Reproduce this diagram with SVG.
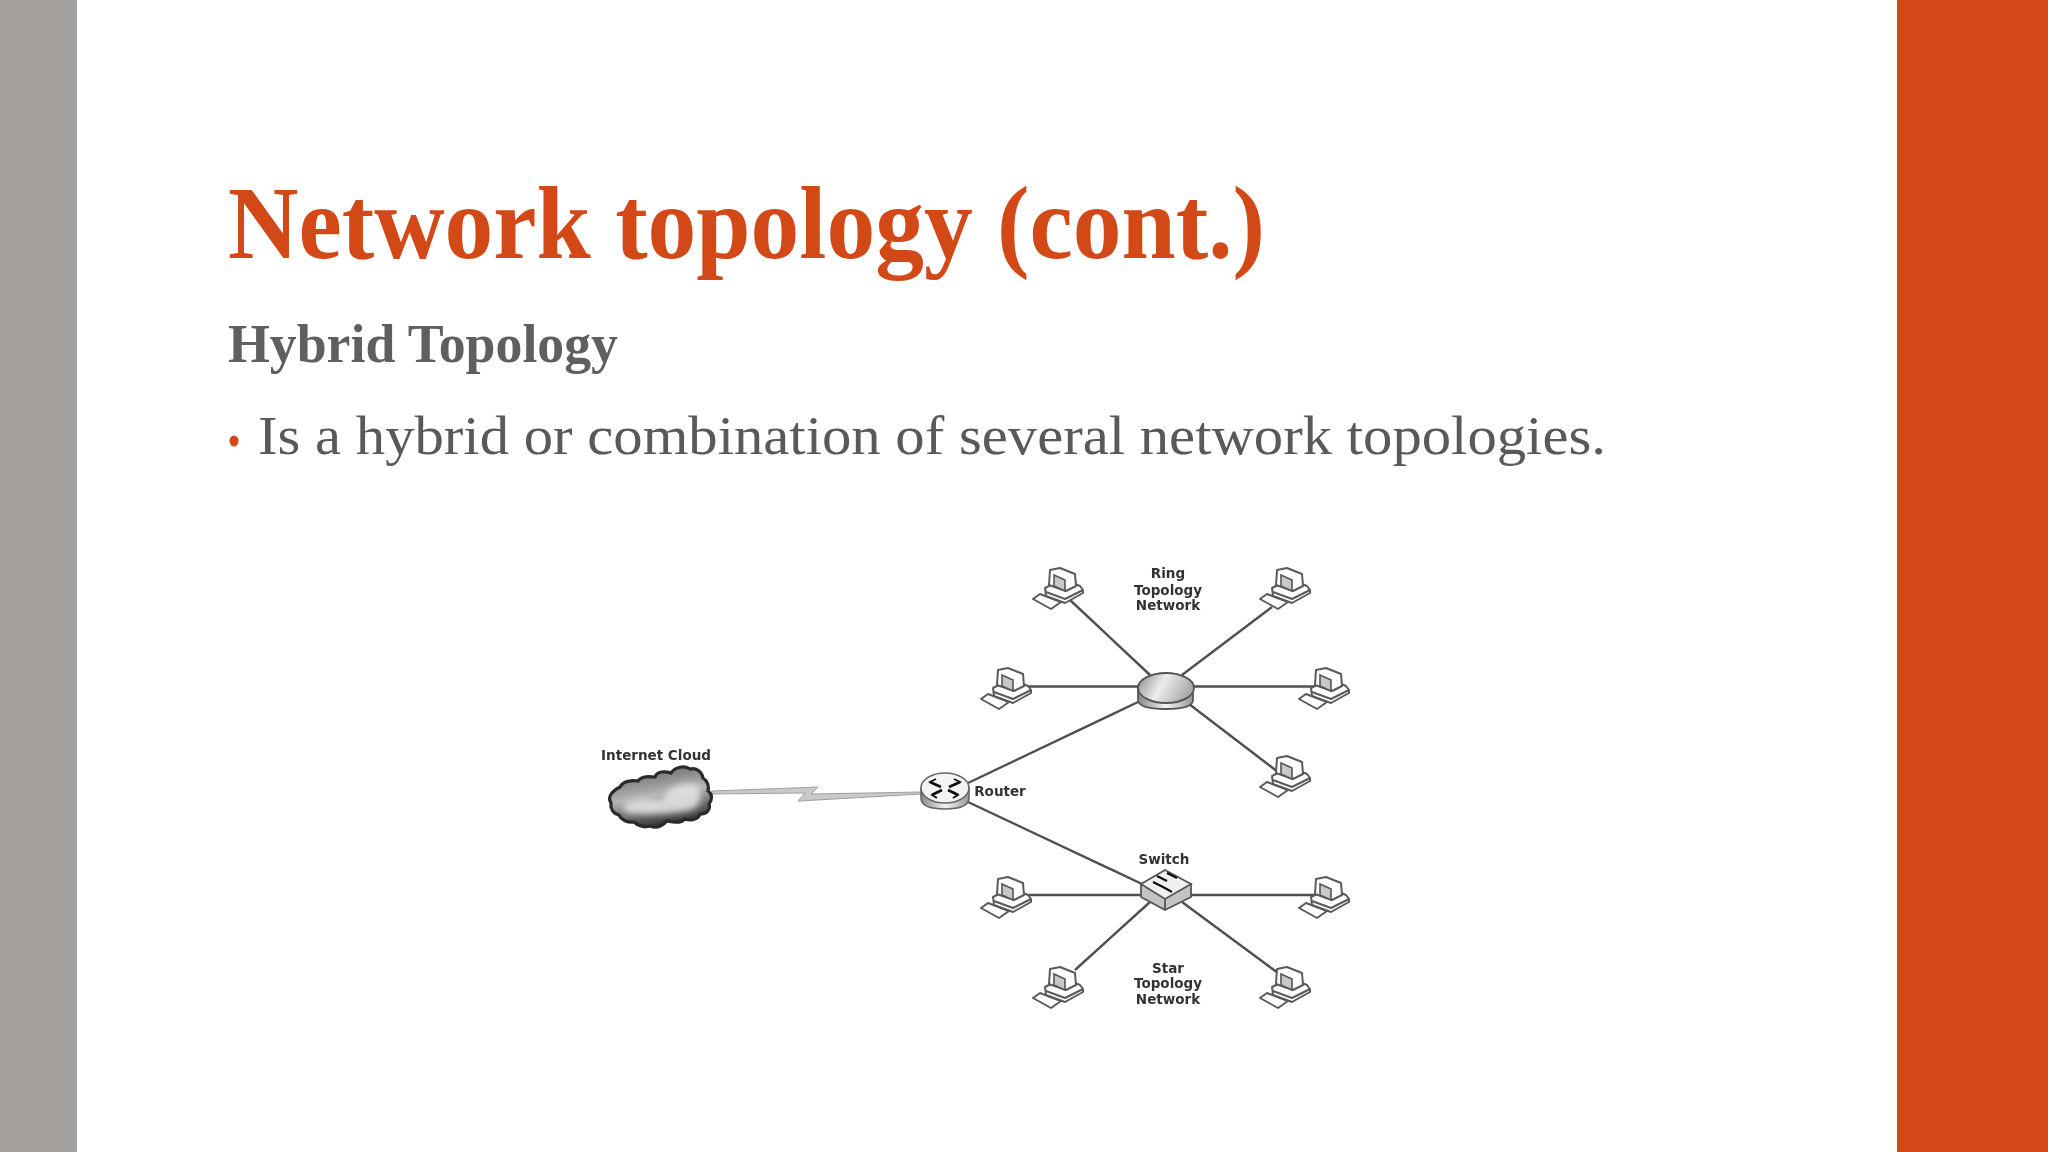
<svg xmlns="http://www.w3.org/2000/svg" width="2048" height="1152" viewBox="0 0 2048 1152">
<style>
.title{font-family:"Liberation Serif",serif;font-weight:700;fill:#D34817}
.sub{font-family:"Liberation Serif",serif;font-weight:700;fill:#5f5f5f}
.body{font-family:"Liberation Serif",serif;fill:#595959}
.lbl{font-family:"DejaVu Sans",sans-serif;font-weight:700;font-size:13.5px;fill:#333;text-anchor:middle}
.link{stroke:#505050;stroke-width:2.4;fill:none}
.pcs{fill:#fff;stroke:#5a5a5a;stroke-width:2;stroke-linejoin:round}
</style>
<defs>
<linearGradient id="hubG" x1="0" y1="0" x2="1" y2="0.3"><stop offset="0" stop-color="#8a8a8a"/><stop offset="0.5" stop-color="#ededed"/><stop offset="1" stop-color="#aaa"/></linearGradient>
<linearGradient id="sideG" x1="0" y1="0" x2="1" y2="0"><stop offset="0" stop-color="#888"/><stop offset="0.5" stop-color="#f2f2f2"/><stop offset="1" stop-color="#999"/></linearGradient>
<linearGradient id="cloudG" x1="0" y1="0" x2="0.3" y2="1"><stop offset="0" stop-color="#555"/><stop offset="0.55" stop-color="#b5b5b5"/><stop offset="1" stop-color="#3a3a3a"/></linearGradient>
<filter id="soft" x="-5%" y="-5%" width="110%" height="110%"><feGaussianBlur stdDeviation="0.6"/></filter>
<filter id="softer" x="-20%" y="-20%" width="140%" height="140%"><feGaussianBlur stdDeviation="3"/></filter>
<g id="pc">
<path class="pcs" d="M0 31L7 26L28 34L18 41Z"/>
<path class="pcs" d="M12 20L30 11L47 18L50 22L50 25L32 35L13 28Z"/>
<path class="pcs" d="M13 24L32 31L50 22"/>
<path class="pcs" d="M17 2L27 0L42 6L43 18L33 23L16 17Z"/>
<path d="M21 7L32 12L32 23L21 18Z" fill="#c8c8c8" stroke="#555" stroke-width="1.6"/>
</g>
</defs>
<rect width="2048" height="1152" fill="#fff"/>
<rect id="bar-left" x="0" y="0" width="77" height="1152" fill="#A5A19F"/>
<rect id="bar-right" x="1897" y="0" width="151" height="1152" fill="#D34817"/>
<text class="title" x="228" y="258" font-size="104" textLength="1037" lengthAdjust="spacingAndGlyphs">Network topology (cont.)</text>
<text class="sub" x="228" y="362" font-size="54" textLength="390" lengthAdjust="spacingAndGlyphs">Hybrid Topology</text>
<ellipse cx="234" cy="441" rx="4.5" ry="5.5" fill="#D34817"/>
<text class="body" x="258" y="454" font-size="54" textLength="1348" lengthAdjust="spacingAndGlyphs">Is a hybrid or combination of several network topologies.</text>
<g filter="url(#soft)">
<g id="connectors">
<path class="link" d="M1070 600L1150 675"/>
<path class="link" d="M1272 607L1182 675"/>
<path class="link" d="M1028 686.5H1138"/>
<path class="link" d="M1193 686.5H1314"/>
<path class="link" d="M1189 704L1278 772"/>
<path class="link" d="M1138 702L968 783"/>
<path class="link" d="M968 802L1142 884"/>
<path class="link" d="M1028 895H1145"/>
<path class="link" d="M1190 895H1314"/>
<path class="link" d="M1075 970L1150 902"/>
<path class="link" d="M1182 902L1278 973"/>
<path id="wan" d="M712 791L818 787L811 794L921 792L921 794L800 801L798 801L805 793L712 794Z" fill="#c9c9c9" stroke="#a0a0a0" stroke-width="1"/>
</g>
<g id="cloud">
<path d="M611 803C607 797 612 791 620 787C623 781 632 780 638 781C642 775 650 777 655 777C657 771 665 771 671 773C675 767 684 765 690 769C696 767 702 772 703 778C708 781 709 787 708 791C713 794 712 800 709 804C711 810 706 814 700 814C698 820 690 821 685 819C680 824 672 822 667 821C662 826 656 829 650 826C644 828 637 825 634 822C628 823 621 820 619 815C613 814 610 808 611 803Z" fill="url(#cloudG)" stroke="#2a2a2a" stroke-width="3.2"/>
<g filter="url(#softer)"><path d="M622 806C632 798 652 798 662 800C668 786 688 780 698 786C703 796 700 808 690 810C670 814 640 816 626 812Z" fill="#e6e6e6" opacity="0.85"/></g>
<text class="lbl" x="656" y="760">Internet Cloud</text>
</g>
<g id="router">
<path d="M921 788V798C921 806 932 809 945 809C958 809 969 806 969 798V788Z" fill="url(#sideG)" stroke="#666" stroke-width="1.6"/>
<ellipse cx="945" cy="788" rx="24" ry="15" fill="#f4f4f4" stroke="#666" stroke-width="1.6"/>
<path d="M930 782L941 787M932 795L942 790M960 782L949 787M958 795L948 790" fill="none" stroke="#111" stroke-width="2.6"/>
<path d="M936 779L930 782L936 785M937 792L932 795L937 798M954 779L960 782L954 785M953 792L958 795L953 798" fill="none" stroke="#111" stroke-width="1.8"/>
<text class="lbl" x="1000" y="796">Router</text>
</g>
<g id="hub">
<path d="M1138 688V700C1138 707 1150 709 1166 709C1182 709 1193 707 1193 700V688Z" fill="url(#sideG)" stroke="#555" stroke-width="1.8"/>
<ellipse cx="1166" cy="688" rx="28" ry="15" fill="url(#hubG)" stroke="#555" stroke-width="1.8"/>
</g>
<g id="switch">
<path d="M1141 884V897L1165 910L1191 897V884Z" fill="#c4c4c4" stroke="#555" stroke-width="1.8"/>
<path d="M1165 870L1191 884L1165 899L1141 884Z" fill="#f0f0f0" stroke="#555" stroke-width="1.8"/>
<path d="M1165 899V910" stroke="#555" stroke-width="1.8"/>
<path d="M1157 876L1167 881M1167 873L1177 878M1153 882L1163 887M1163 887L1172 892" stroke="#111" stroke-width="2.2"/>
<text class="lbl" x="1164" y="864">Switch</text>
</g>
<g id="pc-ring-1"><use href="#pc" x="1033" y="568"/></g>
<g id="pc-ring-2"><use href="#pc" x="1260" y="568"/></g>
<g id="pc-ring-3"><use href="#pc" x="981" y="668"/></g>
<g id="pc-ring-4"><use href="#pc" x="1299" y="668"/></g>
<g id="pc-ring-5"><use href="#pc" x="1260" y="756"/></g>
<g id="pc-star-1"><use href="#pc" x="981" y="877"/></g>
<g id="pc-star-2"><use href="#pc" x="1299" y="877"/></g>
<g id="pc-star-3"><use href="#pc" x="1033" y="967"/></g>
<g id="pc-star-4"><use href="#pc" x="1260" y="967"/></g>
<g id="label-ring"><text class="lbl" x="1168" y="578">Ring</text><text class="lbl" x="1168" y="595">Topology</text><text class="lbl" x="1168" y="610">Network</text></g>
<g id="label-star"><text class="lbl" x="1168" y="973">Star</text><text class="lbl" x="1168" y="988">Topology</text><text class="lbl" x="1168" y="1004">Network</text></g>
</g>
</svg>
